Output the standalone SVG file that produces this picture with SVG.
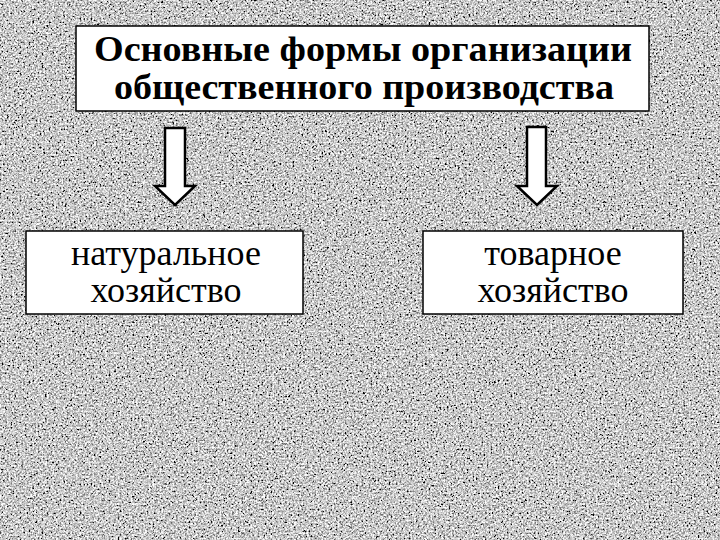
<svg xmlns="http://www.w3.org/2000/svg" width="720" height="540" viewBox="0 0 720 540">
<defs>
<filter id="granite" x="0" y="0" width="720" height="540" filterUnits="userSpaceOnUse">
<feTurbulence type="fractalNoise" baseFrequency="0.55" numOctaves="3" seed="7" result="n"/>
<feColorMatrix in="n" type="matrix" values="1.25 1.25 1.25 0 -1.3  1.25 1.25 1.25 0 -1.3  1.25 1.25 1.25 0 -1.3  0 0 0 0 1"/>
</filter>
<style>
.box{fill:#fff;stroke:#000;stroke-width:1.5}
.arrow{fill:#fff;stroke:#000;stroke-width:2.5;stroke-linejoin:miter}
.title{font-family:"Liberation Serif","DejaVu Serif",serif;font-weight:bold;font-size:35px;text-anchor:middle;fill:#000}
.lbl{font-family:"Liberation Serif","DejaVu Serif",serif;font-size:36px;text-anchor:middle;fill:#000}
</style>
</defs>
<rect x="0" y="0" width="720" height="540" fill="#9a9a9a"/>
<rect x="0" y="0" width="720" height="540" filter="url(#granite)"/>
<g id="title">
<rect class="box" x="76" y="26" width="573" height="85"/>
<text class="title" x="363" y="61" textLength="538" lengthAdjust="spacingAndGlyphs">Основные формы организации</text>
<text class="title" x="364" y="99" textLength="500" lengthAdjust="spacingAndGlyphs">общественного производства</text>
</g>
<g id="connectors">
<path class="arrow" d="M165,128 L185,128 L185,186 L195,186 L175,205 L155,186 L165,186 Z"/>
<path class="arrow" d="M527,127 L546,127 L546,186 L557,186 L537,205 L517,186 L527,186 Z"/>
</g>
<g id="natural">
<rect class="box" x="26" y="231" width="277" height="83"/>
<text class="lbl" x="166" y="265">натуральное</text>
<text class="lbl" x="166" y="302">хозяйство</text>
</g>
<g id="commodity">
<rect class="box" x="423" y="231" width="260" height="83"/>
<text class="lbl" x="553" y="265">товарное</text>
<text class="lbl" x="553" y="302">хозяйство</text>
</g>
</svg>
